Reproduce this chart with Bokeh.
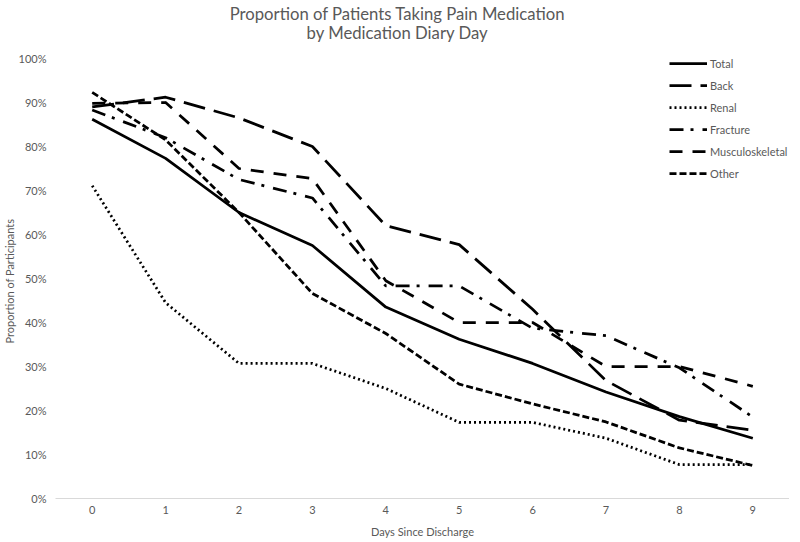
from bokeh.plotting import figure
from bokeh.models import (Legend, LegendItem, Label, Title, NumeralTickFormatter,
                          FixedTicker, Range1d)
from bokeh.embed import file_html
from bokeh.resources import INLINE

days = [0, 1, 2, 3, 4, 5, 6, 7, 8, 9]
total = [0.862, 0.773, 0.650, 0.575, 0.435, 0.362, 0.307, 0.242, 0.186, 0.137]
back = [0.890, 0.912, 0.865, 0.800, 0.620, 0.577, 0.430, 0.268, 0.178, 0.155]
renal = [0.711, 0.445, 0.307, 0.307, 0.250, 0.173, 0.173, 0.137, 0.077, 0.077]
fracture = [0.883, 0.820, 0.725, 0.683, 0.483, 0.483, 0.387, 0.370, 0.297, 0.185]
musculo = [0.898, 0.900, 0.750, 0.727, 0.495, 0.400, 0.400, 0.300, 0.300, 0.255]
other = [0.923, 0.815, 0.650, 0.466, 0.375, 0.260, 0.215, 0.174, 0.115, 0.075]

title_lines = ["Proportion of Patients Taking Pain Medication", "by Medication Diary Day"]
y_ticks = [0.0, 0.1, 0.2, 0.3, 0.4, 0.5, 0.6, 0.7, 0.8, 0.9, 1.0]

series = [
    ("Total", total, "solid"),
    ("Back", back, "22 9"),
    ("Renal", renal, "2 3"),
    ("Fracture", fracture, "14 7 3 9"),
    ("Musculoskeletal", musculo, "13 10"),
    ("Other", other, "7 3"),
]

FONT = "Lato"
GRAY = "#595959"
PX_PER_UNIT = 440          # pixels for 0% -> 100%
FRAME_H = 498              # frame also hosts the title area above 100%

p = figure(frame_width=734, frame_height=FRAME_H, output_backend="svg",
           toolbar_location=None,
           x_range=Range1d(-0.5, 9.5), y_range=Range1d(0, FRAME_H / PX_PER_UNIT),
           min_border=0, min_border_left=50, min_border_right=0,
           min_border_bottom=0, min_border_top=0)
p.outline_line_color = None
p.xgrid.grid_line_color = None
p.ygrid.grid_line_color = None

items = []
for name, vals, dash in series:
    r = p.line(days, vals, line_color="black", line_width=2.75, line_dash=dash,
               line_join="round")
    items.append(LegendItem(label=name, renderers=[r]))

legend = Legend(items=items, location=(614, 317), padding=0, margin=0,
                spacing=6, glyph_width=38, glyph_height=16, label_height=16,
                label_standoff=3, label_text_font=FONT, label_text_font_size="11px",
                label_text_color=GRAY, border_line_color=None,
                background_fill_alpha=0)
p.add_layout(legend)

for txt, ypos in zip(title_lines, [485, 466]):
    p.add_layout(Label(x=342, y=ypos, x_units="screen", y_units="screen",
                       text=txt, text_align="center", text_baseline="middle",
                       text_font=FONT, text_font_size="16.7px", text_color=GRAY))

p.xaxis.ticker = FixedTicker(ticks=days)
p.xaxis.axis_line_color = "#d9d9d9"
p.xaxis.major_tick_line_color = None
p.xaxis.minor_tick_line_color = None
p.xaxis.major_tick_out = 0
p.xaxis.major_tick_in = 0
p.xaxis.major_label_text_font = FONT
p.xaxis.major_label_text_font_size = "11px"
p.xaxis.major_label_text_color = GRAY
p.xaxis.major_label_standoff = 7
p.xaxis.axis_label = "Days Since Discharge"
p.xaxis.axis_label_text_font = FONT
p.xaxis.axis_label_text_font_size = "11px"
p.xaxis.axis_label_text_font_style = "normal"
p.xaxis.axis_label_text_color = GRAY
p.xaxis.axis_label_standoff = 8

p.yaxis.ticker = FixedTicker(ticks=y_ticks)
p.yaxis.formatter = NumeralTickFormatter(format="0%")
p.yaxis.axis_line_color = None
p.yaxis.major_tick_line_color = None
p.yaxis.minor_tick_line_color = None
p.yaxis.major_tick_out = 0
p.yaxis.major_tick_in = 0
p.yaxis.major_label_text_font = FONT
p.yaxis.major_label_text_font_size = "11px"
p.yaxis.major_label_text_color = GRAY
p.yaxis.major_label_standoff = 9

# y-axis title as a side title so it can be centred on the 0-100% span
ytitle = Title(text="Proportion of Participants", align="left", offset=155,
               text_font=FONT, text_font_size="11px", text_font_style="normal",
               text_color=GRAY, standoff=0)
p.add_layout(ytitle, "left")

open("out.html", "w").write(file_html(p, INLINE))
